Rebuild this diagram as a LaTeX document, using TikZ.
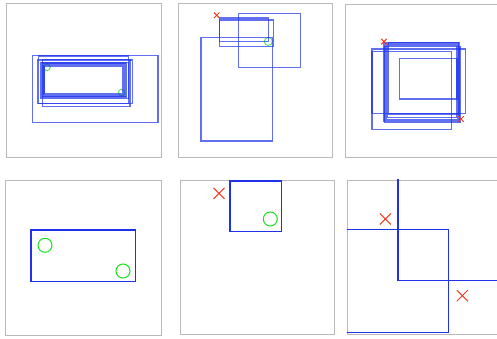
\documentclass[tikz,border=0pt]{standalone}
\usepackage{tikz}
\definecolor{boxblue}{RGB}{30,50,235}
\definecolor{hitgreen}{RGB}{25,225,25}
\definecolor{missred}{RGB}{240,60,30}
\tikzset{
  panel/.style={draw=gray!55, line width=1pt},
  box/.style={draw=boxblue, line width=1.3pt, draw opacity=0.7},
  bigbox/.style={draw=boxblue, line width=1.5pt},
  hit/.style={draw=hitgreen, line width=1pt},
  smallhit/.style={draw=hitgreen, line width=0.9pt, draw opacity=0.8},
  miss/.pic={\draw[missred, line width=1pt] (-5.5,-5.5) -- (5.5,5.5) (-5.5,5.5) -- (5.5,-5.5);}
}

\begin{document}
\begin{tikzpicture}[x=1pt,y=-1pt]
  \useasboundingbox (0,0) rectangle (497,339);
  % top row: many overlapping boxes
  \begin{scope}
    \clip (6.5,3.5) rectangle (161.5,157);
    \draw[smallhit] (47,67.3) circle[radius=3.3];
    \draw[smallhit] (121.7,92.7) circle[radius=3.3];
    \foreach \a/\b/\c/\d in {32.5/55.5/158/122.3, 38.3/56/128.3/103.3,
        42.3/59.3/130/106.7, 37.5/60/132.7/103.3, 40.7/62.3/128.3/98.3,
        41.5/63/126.5/97, 42.4/63.8/125.5/96.2, 43.3/64.6/124.5/95.3,
        44/65.5/123.8/94.3, 44.7/66.7/122.3/93.3}
      \draw[box] (\a,\b) rectangle (\c,\d);
  \end{scope}
  \draw[panel] (6.5,3.5) rectangle (161.5,157);

  \begin{scope}
    \clip (178.3,3.5) rectangle (332.3,157);
    \draw[smallhit] (268.3,41.5) circle[radius=4];
    \foreach \a/\b/\c/\d in {201/37.3/272.3/141, 219.3/18/268.3/41.3,
        219.3/20/273.3/46.3, 238.3/13.7/300.7/67.3}
      \draw[box] (\a,\b) rectangle (\c,\d);
    \pic[scale=0.5] at (216.7,15.3) {miss};
  \end{scope}
  \draw[panel] (178.3,3.5) rectangle (332.3,157);

  \begin{scope}
    \clip (345.7,4.3) rectangle (500,157);
    \foreach \a/\b/\c/\d in {372/49/465.3/113.5, 372/51.7/451.3/129.5,
        399.3/58.3/457/99, 383.5/42.7/459.5/121.7, 385/43.5/458.5/120.5,
        386.3/44.3/457.7/119.3, 387.5/45.5/456.8/117.5, 384.3/46.5/460/122.3,
        388.5/42.5/458.8/114}
      \draw[box] (\a,\b) rectangle (\c,\d);
    \pic[scale=0.5] at (384,41.7) {miss};
    \pic[scale=0.5] at (461,119) {miss};
  \end{scope}
  \draw[panel] (345.7,4.3) rectangle (500,157);

  % bottom row
  \draw[panel] (5.3,180.7) rectangle (161.7,335.7);
  \draw[bigbox] (31,230) rectangle (135.3,281.7);
  \draw[hit] (45,245.3) circle[radius=7];
  \draw[hit] (123,271) circle[radius=7];

  \draw[panel] (180.7,180.3) rectangle (334.3,334.3);
  \draw[bigbox] (230,180.8) rectangle (281.7,231.3);
  \draw[hit] (270.3,219) circle[radius=7];
  \pic at (219,193.3) {miss};

  \draw[panel] (347.3,180.3) rectangle (502,334);
  \begin{scope}
    \clip (346.8,179.8) rectangle (502,334);
    \draw[bigbox] (398,150) rectangle (530,280.3);
    \draw[bigbox] (320,229.7) rectangle (448.3,332.3);
    \pic at (385.3,219) {miss};
    \pic at (462.3,295.7) {miss};
  \end{scope}
\end{tikzpicture}
\end{document}
